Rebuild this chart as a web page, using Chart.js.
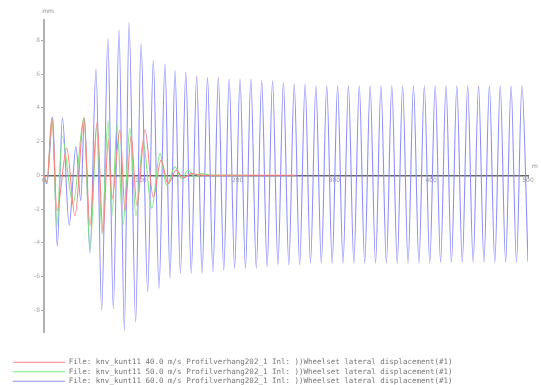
<!DOCTYPE html>
<html>
<head>
<meta charset="utf-8">
<script src="https://cdn.jsdelivr.net/npm/chart.js@4/dist/chart.umd.min.js"></script>
<style>
  html, body { margin: 0; padding: 0; background: #fff; overflow: hidden; }
  canvas { display: block; }
</style>
</head>
<body>
<canvas id="c" width="541" height="395"></canvas>
<script>
// Series names shown in the legend
const seriesLabels = [
  'File: knv_kunt11 40.0 m/s Profilverhang202_1 Inl: ))Wheelset lateral displacement(#1)',
  'File: knv_kunt11 50.0 m/s Profilverhang202_1 Inl: ))Wheelset lateral displacement(#1)',
  'File: knv_kunt11 60.0 m/s Profilverhang202_1 Inl: ))Wheelset lateral displacement(#1)'
];

// Wheelset lateral displacement [mm] vs. distance [m] (turning points of each trace)
const redX = [0, 3, 8.3, 13.4, 23.5, 32, 41.3, 47.5, 54.8, 61, 66.4, 70.2, 78.5, 83.7, 90, 96, 104.3, 112.9, 120.9, 128.1, 136.4, 144, 152, 165, 200, 260];
const redY = [0, -0.4, 3.4, -2.1, 1.6, -2.4, 3.4, -3.0, 3.15, -3.4, 2.1, -1.4, 2.7, -2.1, 2.3, -1.8, 2.7, -1.3, 0.9, -0.5, 0.3, -0.15, 0.1, 0, 0, 0];

const greenX = [0, 3, 8.3, 13.4, 18.6, 30, 41.3, 47.5, 54.8, 59.9, 66.1, 70.2, 75.4, 81.6, 88.8, 95, 102.3, 111.3, 119.8, 126.8, 135.3, 142.3, 148.8, 156, 163, 175, 210];
const greenY = [0, -0.4, 3.4, -3.0, 2.3, -1.7, 3.4, -4.4, 3.0, -3.5, 3.25, -2.4, 3.0, -2.95, 2.8, -2.4, 2.0, -1.95, 1.3, -0.6, 0.5, -0.2, 0.3, -0.1, 0.1, 0, 0];

const blueX = [
  0, 3, 9, 13.7, 19, 26, 33, 38, 41.7, 47.5, 53.7, 59.6, 66, 71.6, 77.5, 83, 87.8, 94.7, 100.2, 107.1, 112.9, 118.8, 125, 130.2,
  135.3, 140.9, 146.5, 152.1, 157.7, 163.3, 168.9, 174.5, 180.1, 185.7, 191.3, 196.9, 202.5, 208.1, 213.7, 219.3,
  224.9, 230.5, 236.1, 241.7, 247.3, 252.9, 258.5, 264.1, 269.7, 275.3, 280.9, 286.5, 292.1, 297.7, 303.3, 308.9,
  314.5, 320.1, 325.7, 331.3, 336.9, 342.5, 348.1, 353.7, 359.3, 364.9, 370.5, 376.1, 381.7, 387.3, 392.9, 398.5,
  404.1, 409.7, 415.3, 420.9, 426.5, 432.1, 437.7, 443.3, 448.9, 454.5, 460.1, 465.7, 471.3, 476.9, 482.5, 488.1,
  493.7, 500
];
const blueY = [
  0, -0.5, 3.45, -4.2, 3.4, -2.95, 1.7, -1.5, 3.4, -4.6, 6.3, -8.0, 8.1, -7.9, 8.6, -9.2, 9.05, -8.7, 7.8, -6.9, 6.8, -6.7, 6.6, -6.1,
  6.2, -5.8, 6.1, -5.8, 5.9, -5.8, 5.8, -5.7, 5.8, -5.6, 5.7, -5.5, 5.7, -5.5, 5.7, -5.5,
  5.6, -5.4, 5.6, -5.3, 5.5, -5.3, 5.4, -5.3, 5.4, -5.2, 5.3, -5.2, 5.3, -5.2, 5.3, -5.2,
  5.3, -5.2, 5.3, -5.2, 5.3, -5.2, 5.3, -5.2, 5.3, -5.2, 5.3, -5.2, 5.3, -5.2, 5.3, -5.2,
  5.3, -5.15, 5.3, -5.15, 5.3, -5.15, 5.3, -5.15, 5.3, -5.15, 5.3, -5.15, 5.3, -5.15, 5.3, -5.15,
  5.3, -5.1
];

const xTicks = [0, 100, 200, 300, 400, 500];
const yTicks = [-8, -6, -4, -2, 0, 2, 4, 6, 8];

const toPoints = (xs, ys) => xs.map((x, i) => ({ x: x, y: ys[i] }));

const trace = (label, xs, ys, color) => ({
  label: label,
  data: toPoints(xs, ys),
  borderColor: color,
  backgroundColor: color,
  borderWidth: 1.1,
  pointRadius: 0,
  fill: false,
  cubicInterpolationMode: 'monotone'
});

// Unit captions at the ends of the axes
const unitCaptions = {
  id: 'unitCaptions',
  afterDraw(chart) {
    const { ctx, chartArea, scales } = chart;
    ctx.save();
    ctx.fillStyle = '#888';
    ctx.font = '6px "DejaVu Sans"';
    ctx.textAlign = 'center';
    ctx.textBaseline = 'middle';
    ctx.fillText('mm', chartArea.left + 4, chartArea.top - 9);
    ctx.fillText('m', chartArea.right + 7, scales.y.getPixelForValue(0) - 9);
    ctx.restore();
  }
};

new Chart(document.getElementById('c'), {
  type: 'line',
  data: {
    datasets: [
      trace(seriesLabels[0], redX, redY, '#ff8080'),
      trace(seriesLabels[1], greenX, greenY, '#7de67d'),
      trace(seriesLabels[2], blueX, blueY, '#8e8eff')
    ]
  },
  options: {
    responsive: false,
    animation: false,
    layout: { padding: { left: 11, right: 13, top: 20, bottom: 0 } },
    plugins: {
      tooltip: { enabled: false },
      legend: {
        display: true,
        position: 'bottom',
        align: 'start',
        title: { display: true, text: ' ', font: { size: 1 }, padding: { top: 23, bottom: 0 } },
        labels: {
          usePointStyle: true,
          pointStyle: 'line',
          pointStyleWidth: 52,
          padding: 2,
          color: '#777',
          font: { family: '"DejaVu Sans Mono"', size: 7.5 }
        }
      }
    },
    scales: {
      x: {
        type: 'linear',
        position: { y: 0 },
        min: 0,
        max: 500,
        afterBuildTicks: (s) => { s.ticks = xTicks.map(v => ({ value: v })); },
        grid: { display: true, drawOnChartArea: false, drawTicks: true, tickLength: 2, color: '#888' },
        border: { display: true, color: '#666', width: 1.5 },
        ticks: { color: '#999', padding: 0, maxRotation: 0, font: { family: '"DejaVu Sans"', size: 6 } }
      },
      y: {
        type: 'linear',
        position: 'left',
        min: -9.3,
        max: 9.2,
        afterBuildTicks: (s) => { s.ticks = yTicks.map(v => ({ value: v })); },
        afterFit: (s) => { s.width = 33; },
        grid: { display: true, drawOnChartArea: false, drawTicks: true, tickLength: 3, color: '#aaa' },
        border: { display: true, color: '#b0b0b0', width: 2 },
        ticks: { color: '#aaa', padding: 1, font: { family: '"DejaVu Sans"', size: 6 } }
      }
    }
  },
  plugins: [unitCaptions]
});
</script>
</body>
</html>
